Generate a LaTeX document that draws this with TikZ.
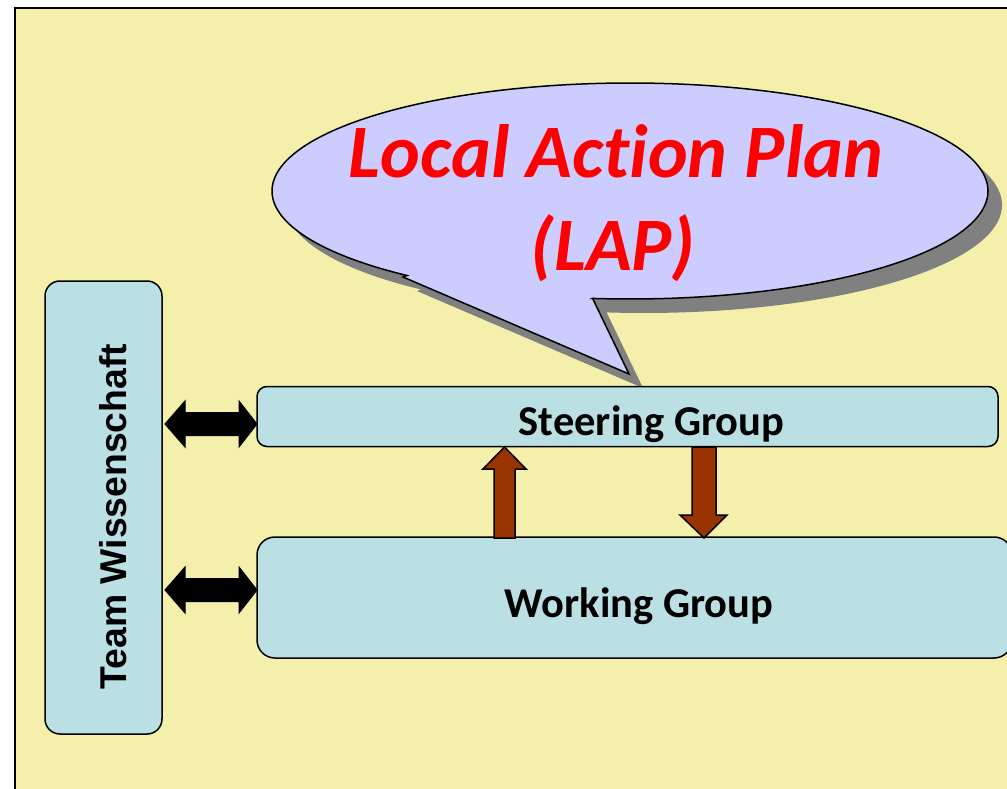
\documentclass[tikz,border=0pt]{standalone}
\usepackage{fontspec}
\newfontfamily\calibri[Ligatures=NoCommon]{Carlito}
\newfontfamily\arialf{Liberation Sans}
\usetikzlibrary{calc}
\definecolor{bgyellow}{HTML}{F4EFAA}
\definecolor{boxblue}{HTML}{BBE0E3}
\definecolor{bubble}{HTML}{CCCCFF}
\definecolor{brownarrow}{HTML}{993300}
\definecolor{shadowgray}{HTML}{808080}
\tikzset{
  groupbox/.style={draw=black, line width=1.5pt, fill=boxblue, inner sep=0pt},
  grouplabel/.style={font=\calibri\bfseries\fontsize{42.5}{50}\selectfont, anchor=base, inner sep=0pt},
  laplabel/.style={font=\calibri\bfseries\itshape\fontsize{75.5}{92}\selectfont, text=red, anchor=base, inner sep=0pt},
  blackarrow/.style={draw=black, line width=1pt, fill=black},
  brownblock/.style={draw=black, line width=1.5pt, fill=brownarrow, line join=miter},
}
\begin{document}
\begin{tikzpicture}[x=1pt,y=-1pt]
\useasboundingbox (0,0) rectangle (1007,789);
\fill[white] (0,0) rectangle (1007,789);
\fill[bgyellow] (15,8) rectangle (1012,792);
\draw[line width=2pt] (15,792) -- (15,8) -- (1012,8);

% callout shadow
\fill[shadowgray, shift={(14,14)}] (403,277) -- (629,374) -- (592.6,298.4)
  -- plot[domain=96:-231.5, samples=240, variable=\t] ({630+358*cos(\t)},{191+108*sin(\t)}) -- cycle;
% callout
\draw[fill=bubble, line width=1.5pt, line join=miter] (403,277) -- (629,374) -- (592.6,298.4)
  -- plot[domain=96:-231.5, samples=240, variable=\t] ({630+358*cos(\t)},{191+108*sin(\t)}) -- cycle;
\node[laplabel] (lap) at (616,178) {Local Action Plan};
\node[laplabel] (lapb) at (613,270) {(LAP)};

% boxes
\node[groupbox, rounded corners=15pt, minimum width=117pt, minimum height=453pt] (tw) at (103.5,507.5) {};
\node[groupbox, rounded corners=10pt, minimum width=741pt, minimum height=60pt] (sg) at (627.5,416.5) {};
\node[groupbox, rounded corners=18pt, minimum width=755pt, minimum height=121pt] (wg) at (634.5,597.5) {};

\node[font=\arialf\bfseries\fontsize{37.3}{44}\selectfont, rotate=90, anchor=base, inner sep=0pt] (twt) at (126,516.5) {Team Wissenschaft};
\node[grouplabel] (sgt) at (651.5,435) {Steering Group};
\node[grouplabel] (wgt) at (639,617) {Working Group};

% double arrows
\draw[blackarrow] (165,424) -- (185,401) -- (185,412.5) -- (239,412.5) -- (239,401) -- (257,424)
  -- (239,447) -- (239,435.5) -- (185,435.5) -- (185,447) -- cycle;
\draw[blackarrow] (165,590) -- (185,567) -- (185,578.5) -- (239,578.5) -- (239,567) -- (257,590)
  -- (239,613) -- (239,601.5) -- (185,601.5) -- (185,613) -- cycle;

% brown arrows
\draw[brownblock] (494,538) -- (494,469) -- (483,469) -- (504.5,447) -- (526,469) -- (515,469) -- (515,538) -- cycle;
\draw[brownblock] (692,447) -- (716,447) -- (716,515) -- (727,515) -- (704,538) -- (680,515) -- (692,515) -- cycle;
\end{tikzpicture}
\end{document}
